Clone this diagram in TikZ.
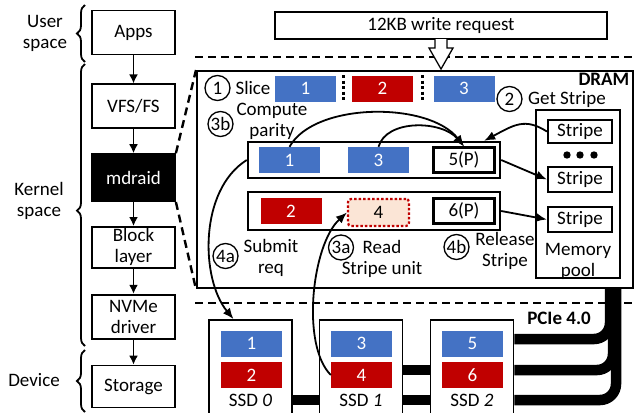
\documentclass[tikz,border=0pt]{standalone}
\usepackage{fontspec}
\setmainfont{Carlito}
\usetikzlibrary{arrows.meta,positioning,decorations.pathreplacing}
\definecolor{stripeblue}{HTML}{4472C4}
\definecolor{stripered}{HTML}{C00000}
\definecolor{readfill}{HTML}{FBE5D6}

\begin{document}
\begin{tikzpicture}[x=1pt,y=-1pt,font=\fontsize{19}{21}\selectfont]
  \tikzstyle{layerbox}=[draw, line width=1.8pt, minimum width=83pt, minimum height=44pt, align=center, inner sep=1pt]
  \tikzstyle{flow}=[-{Latex[length=9pt,width=9pt]}, line width=1.6pt]
  \tikzstyle{bracket}=[decorate, decoration={brace,amplitude=8pt}, line width=1.8pt]
  \tikzstyle{zoomline}=[line width=2.4pt, dash pattern=on 8pt off 5pt]
  \tikzstyle{chunk}=[minimum width=61pt, minimum height=26pt, inner sep=0pt, text=white]
  \tikzstyle{parity}=[draw, line width=2.2pt, minimum width=61pt, minimum height=25pt, inner sep=0pt]
  \tikzstyle{stepno}=[circle, draw, line width=1.3pt, minimum size=25pt, inner sep=0.3pt]
  \tikzstyle{curvedarrow}=[-{Latex[length=11pt,width=9pt]}, line width=1.8pt]
  \tikzstyle{bus}=[line width=10.5pt]
  \tikzstyle{ssd}=[draw, line width=1.8pt, minimum width=83pt, minimum height=96pt]

  \useasboundingbox (0,0) rectangle (641,413);

  % software stack
  \node[layerbox] (apps) at (133.5,32.5) {Apps};
  \node[layerbox, below=28pt of apps] (vfs) {VFS/FS};
  \node[layerbox, fill=black, text=white, minimum height=47pt, below=24pt of vfs] (md) {mdraid};
  \node[layerbox, minimum height=41pt, below=24pt of md] (block) {Block\\layer};
  \node[layerbox, below=25pt of block] (nvme) {NVMe\\driver};
  \node[layerbox, minimum height=42pt, below=25pt of nvme] (storage) {Storage};

  \draw[flow] (apps) -- (vfs);
  \draw[flow] (vfs) -- (md);
  \draw[flow] (md) -- (block);
  \draw[flow] (block) -- (nvme);
  \draw[flow] (nvme) -- (storage);

  \draw[bracket] (85,62) -- (85,5);
  \node[align=center] (user) at (45,33) {User\\space};
  \draw[bracket, decoration={brace,amplitude=8pt,aspect=0.48}] (85,346) -- (85,64);
  \node[align=center] (kernel) at (39,201) {Kernel\\space};
  \draw[bracket] (85,412) -- (85,350);
  \node (device) at (34,380) {Device};

  % DRAM region
  \node[draw, line width=2.2pt, minimum width=436pt, minimum height=217pt, anchor=north west] (dram) at (196,70) {};
  \node[font=\fontsize{19}{21}\selectfont\bfseries, anchor=north east, inner sep=0.5pt] (dramlabel) at (630,72) {DRAM};

  \coordinate (topL) at (195,57);
  \coordinate (topR) at (633,57);
  \coordinate (botL) at (195,303);
  \coordinate (botR) at (633,303);
  \draw[zoomline] (topL) -- (topR);
  \draw[zoomline] (botL) -- (botR);
  \draw[zoomline] (md.north east) -- (dram.north west);
  \draw[zoomline] (md.south east) -- (dram.south west);

  \node[draw, line width=1.8pt, minimum width=332pt, minimum height=27pt] (req) at (441,25.5) {12KB write request};
  \draw[line width=1.3pt, fill=white] (435,39) -- (435,48) -- (429,48) -- (441,69) -- (453,48) -- (447,48) -- (447,39);

  % slicing
  \node[stepno] (s1) at (217.5,88) {1};
  \node (slice) at (253,88) {Slice};
  \node[chunk, fill=stripeblue] (w1) at (305.5,88.5) {1};
  \node[chunk, fill=stripered] (w2) at (382.5,88.5) {2};
  \node[chunk, fill=stripeblue] (w3) at (464,88.5) {3};
  \draw[line width=2.2pt, dash pattern=on 3pt off 2.5pt] (343.5,75) -- (343.5,102);
  \draw[line width=2.2pt, dash pattern=on 3pt off 2.5pt] (422.5,75) -- (422.5,102);

  \node[stepno] (s2) at (509.5,99) {2};
  \node[inner sep=0.5pt] (getstripe) at (567,99) {Get Stripe};
  \node[stepno] (s3b) at (220.5,124) {3b};
  \node[align=center] (compute) at (272,121) {Compute\\parity};

  % stripes in flight
  \node[draw, line width=2.4pt, minimum width=252pt, minimum height=36pt] (row1) at (374,160) {};
  \node[chunk, fill=stripeblue] (b1) at (289.5,160) {1};
  \node[chunk, fill=stripeblue] (b3) at (378.5,160) {3};
  \node[parity] (p5) at (464,160) {5(P)};

  \node[draw, line width=2.4pt, minimum width=252pt, minimum height=38pt] (row2) at (374,211) {};
  \node[chunk, fill=stripered] (b2) at (291,211) {2};
  \node[draw=stripered, fill=readfill, line width=2.2pt, dash pattern=on 2.5pt off 2pt, rounded corners=3pt, minimum width=61pt, minimum height=27pt, inner sep=0pt] (b4) at (378.5,212.5) {4};
  \node[parity] (p6) at (464,211) {6(P)};

  \node[stepno] (s4a) at (225.5,256) {4a};
  \node[align=center] (submit) at (271,258) {Submit\\req};
  \node[stepno] (s3a) at (341,247.5) {3a};
  \node[align=center] (readunit) at (382,259) {Read\\Stripe unit};
  \node[stepno] (s4b) at (456.5,247) {4b};
  \node[align=center] (release) at (505,251) {Release\\Stripe};

  % memory pool
  \node[draw, line width=1.1pt, minimum width=84pt, minimum height=168pt] (pool) at (578,194) {};
  \node[draw, line width=2.2pt, minimum width=64pt, minimum height=23pt, inner sep=0pt] (ms1) at (580,131.5) {Stripe};
  \node[draw, line width=2.2pt, minimum width=64pt, minimum height=25pt, inner sep=0pt] (ms2) at (580,179.5) {Stripe};
  \node[draw, line width=2.2pt, minimum width=64pt, minimum height=25pt, inner sep=0pt] (ms3) at (580,219.5) {Stripe};
  \foreach \x in {567,580,594}
    \fill (\x,155) circle (3.7pt);
  \node[align=center] (poollabel) at (578,261) {Memory\\pool};

  \draw[curvedarrow] (ms1.west) .. controls +(-22,-14) and +(30,-16) .. ([xshift=-17pt]row1.north east);
  \draw[curvedarrow] (b1.north) .. controls +(25,-45) and +(-35,-45) .. (p5.north);
  \draw[curvedarrow] (b3.north) .. controls +(8,-28) and +(-22,-26) .. (p5.north);
  \draw[curvedarrow] (row1.east) -- (ms2.west);
  \draw[curvedarrow] (row2.east) -- (ms3.west);

  % SSDs
  \node[ssd] (ssd0) at (250.5,368) {};
  \node[chunk, fill=stripeblue] (d1) at (251.5,343.5) {1};
  \node[chunk, fill=stripered] (d2) at (251.5,375) {2};
  \node (l0) at (250.5,400) {SSD \textit{0}};
  \node[ssd] (ssd1) at (361,368) {};
  \node[chunk, fill=stripeblue] (d3) at (361.5,343.5) {3};
  \node[chunk, fill=stripered] (d4) at (361.5,375) {4};
  \node (l1) at (361,400) {SSD \textit{1}};
  \node[ssd] (ssd2) at (472,368) {};
  \node[chunk, fill=stripeblue] (d5) at (472.5,343.5) {5};
  \node[chunk, fill=stripered] (d6) at (472.5,375) {6};
  \node (l2) at (472,400) {SSD \textit{2}};

  \draw[bus] (ssd0.east |- 0,400) -- (ssd1.west |- 0,400);
  \draw[bus] (ssd1.east |- 0,370) -- (ssd2.west |- 0,370);
  \draw[bus] (ssd1.east |- 0,400) -- (ssd2.west |- 0,400);
  \foreach \yy/\xx in {339/610,370/613,400/616}
    \draw[bus, rounded corners=16pt] (ssd2.east |- 0,\yy) -| (\xx,287);
  \node[font=\fontsize{19}{21}\selectfont\bfseries] (pcie) at (559,318) {PCIe 4.0};

  \draw[curvedarrow] (row1.west) .. controls +(-48,30) and +(-33,-40) .. ([xshift=-17pt]ssd0.north);
  \draw[curvedarrow] (d4.west) .. controls +(-30,-30) and +(-35,32) .. (b4.west);
\end{tikzpicture}
\end{document}
